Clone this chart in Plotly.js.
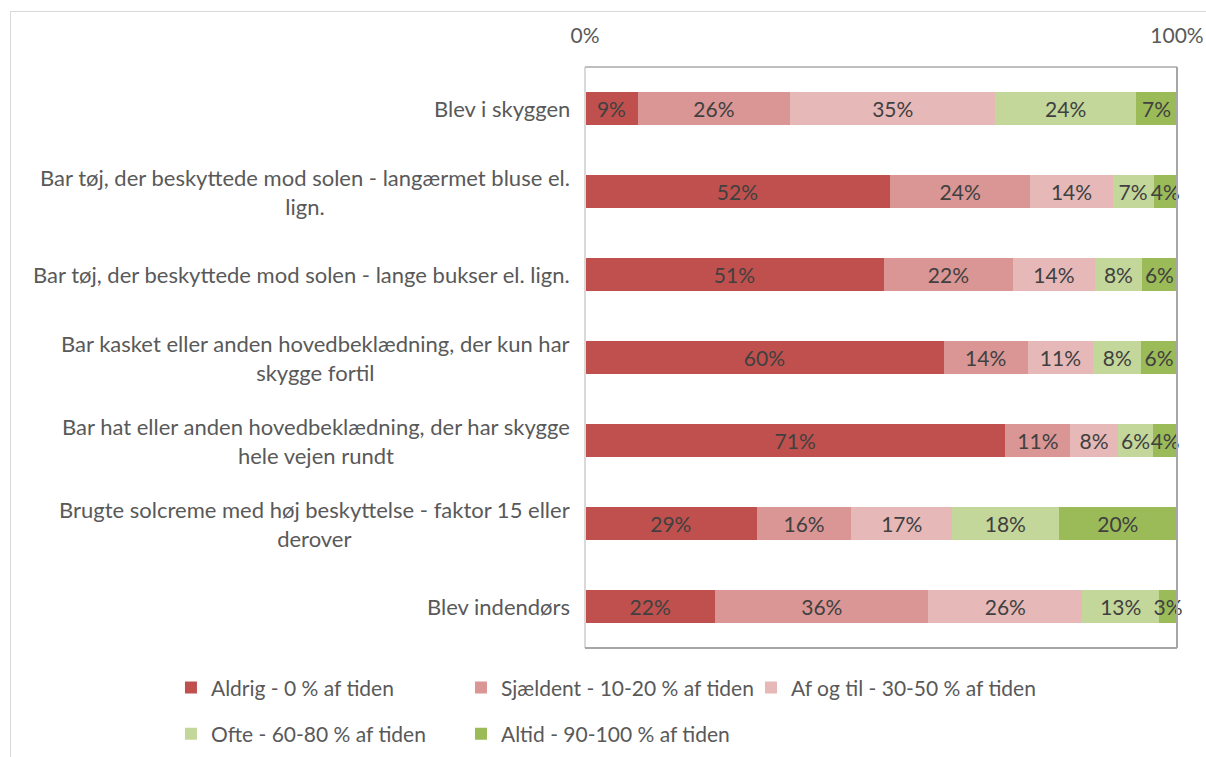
<!DOCTYPE html>
<html>
<head>
<meta charset="utf-8">
<script src="https://cdn.plot.ly/plotly-3.0.1.min.js"></script>
<style>
html,body{margin:0;padding:0;background:#fff;overflow:hidden;}
#frame{position:absolute;left:10px;top:11px;width:1300px;height:900px;border:1.5px solid #d9d9d9;}
#chart{position:absolute;left:0;top:0;width:1206px;height:757px;}
</style>
</head>
<body>
<div id="frame"></div>
<div id="chart"></div>
<script>
const categories = [
  "Blev i skyggen",
  "Bar tøj, der beskyttede mod solen - langærmet bluse el.<br>lign.",
  "Bar tøj, der beskyttede mod solen - lange bukser el. lign.",
  "Bar kasket eller anden hovedbeklædning, der kun har<br>skygge fortil",
  "Bar hat eller anden hovedbeklædning, der har skygge<br>hele vejen rundt",
  "Brugte solcreme med høj beskyttelse - faktor 15 eller<br>derover",
  "Blev indendørs"
];
const seriesNames = [
  "Aldrig - 0 % af tiden",
  "Sjældent - 10-20 % af tiden",
  "Af og til - 30-50 % af tiden",
  "Ofte - 60-80 % af tiden",
  "Altid - 90-100 % af tiden"
];
const aldrig    = [9, 52, 51, 60, 71, 29, 22];
const sjaeldent = [26, 24, 22, 14, 11, 16, 36];
const afogtil   = [35, 14, 14, 11, 8, 17, 26];
const ofte      = [24, 7, 8, 8, 6, 18, 13];
const altid     = [7, 4, 6, 6, 4, 20, 3];
const colors = ["#c0504d", "#da9694", "#e6b9b8", "#c4d79b", "#9bbb59"];
const tickVals = [0, 100];
const tickText = ["0%", "100%"];

const allSeries = [aldrig, sjaeldent, afogtil, ofte, altid];
const FONT = "Lato, 'Liberation Sans', sans-serif";
const legendIds = ["legend", "legend2", "legend3", "legend4", "legend5"];

const traces = allSeries.map((vals, i) => ({
  type: "bar",
  orientation: "h",
  name: seriesNames[i],
  y: categories,
  x: vals,
  text: vals.map(v => v + "%"),
  textposition: "inside",
  insidetextanchor: "middle",
  textangle: 0,
  constraintext: "none",
  cliponaxis: false,
  textfont: {family: FONT, size: 21, color: "#404040"},
  marker: {color: colors[i], line: {width: 0}},
  width: 0.4,
  hoverinfo: "x+y+name",
  legend: legendIds[i]
}));

const annotations = categories.map(c => ({
  xref: "paper", yref: "y",
  x: 0, y: c,
  xanchor: "right", yanchor: "middle",
  xshift: -13,
  text: c, align: "center",
  showarrow: false,
  font: {family: FONT, size: 22, color: "#595959"}
}));

const shapes = [
  {type: "line", xref: "paper", yref: "paper", x0: 0, x1: 0, y0: 0, y1: 1, line: {color: "#d9d9d9", width: 2}},
  {type: "line", xref: "paper", yref: "paper", x0: 0, x1: 1, y0: 1, y1: 1, line: {color: "#bfbfbf", width: 2}},
  {type: "line", xref: "paper", yref: "paper", x0: 1, x1: 1, y0: 0, y1: 1, line: {color: "#a6a6a6", width: 2}},
  {type: "line", xref: "paper", yref: "paper", x0: 0, x1: 1, y0: 0, y1: 0, line: {color: "#a6a6a6", width: 2}}
];

function legendAt(x, y) {
  return {
    orientation: "h",
    xanchor: "left",
    yanchor: "middle",
    x: x, y: y,
    font: {family: FONT, size: 21, color: "#595959"},
    bgcolor: "rgba(0,0,0,0)",
    itemwidth: 30
  };
}
const row1 = -0.0688, row2 = -0.148;
const colX = [-0.6994, -0.2095, 0.2804];

const layout = {
  width: 1206, height: 757,
  margin: {l: 585, r: 29, t: 67, b: 109, autoexpand: false},
  paper_bgcolor: "rgba(0,0,0,0)",
  plot_bgcolor: "#ffffff",
  barmode: "stack",
  barnorm: "percent",
  bargap: 0.6,
  uniformtext: {minsize: 21, mode: "show"},
  showlegend: true,
  xaxis: {
    side: "top",
    range: [0, 100.00001],
    tickvals: tickVals,
    ticktext: tickText,
    showgrid: false,
    zeroline: false,
    showline: false,
    ticks: "",
    ticklabelstandoff: 19,
    tickfont: {family: FONT, size: 21, color: "#595959"},
    fixedrange: true
  },
  yaxis: {
    autorange: "reversed",
    showticklabels: false,
    showgrid: false,
    zeroline: false,
    showline: false,
    ticks: "",
    fixedrange: true
  },
  legend: legendAt(colX[0], row1),
  legend2: legendAt(colX[1], row1),
  legend3: legendAt(colX[2], row1),
  legend4: legendAt(colX[0], row2),
  legend5: legendAt(colX[1], row2),
  annotations: annotations,
  shapes: shapes,
  font: {family: FONT}
};

Plotly.newPlot("chart", traces, layout, {displayModeBar: false, staticPlot: true});
</script>
</body>
</html>
